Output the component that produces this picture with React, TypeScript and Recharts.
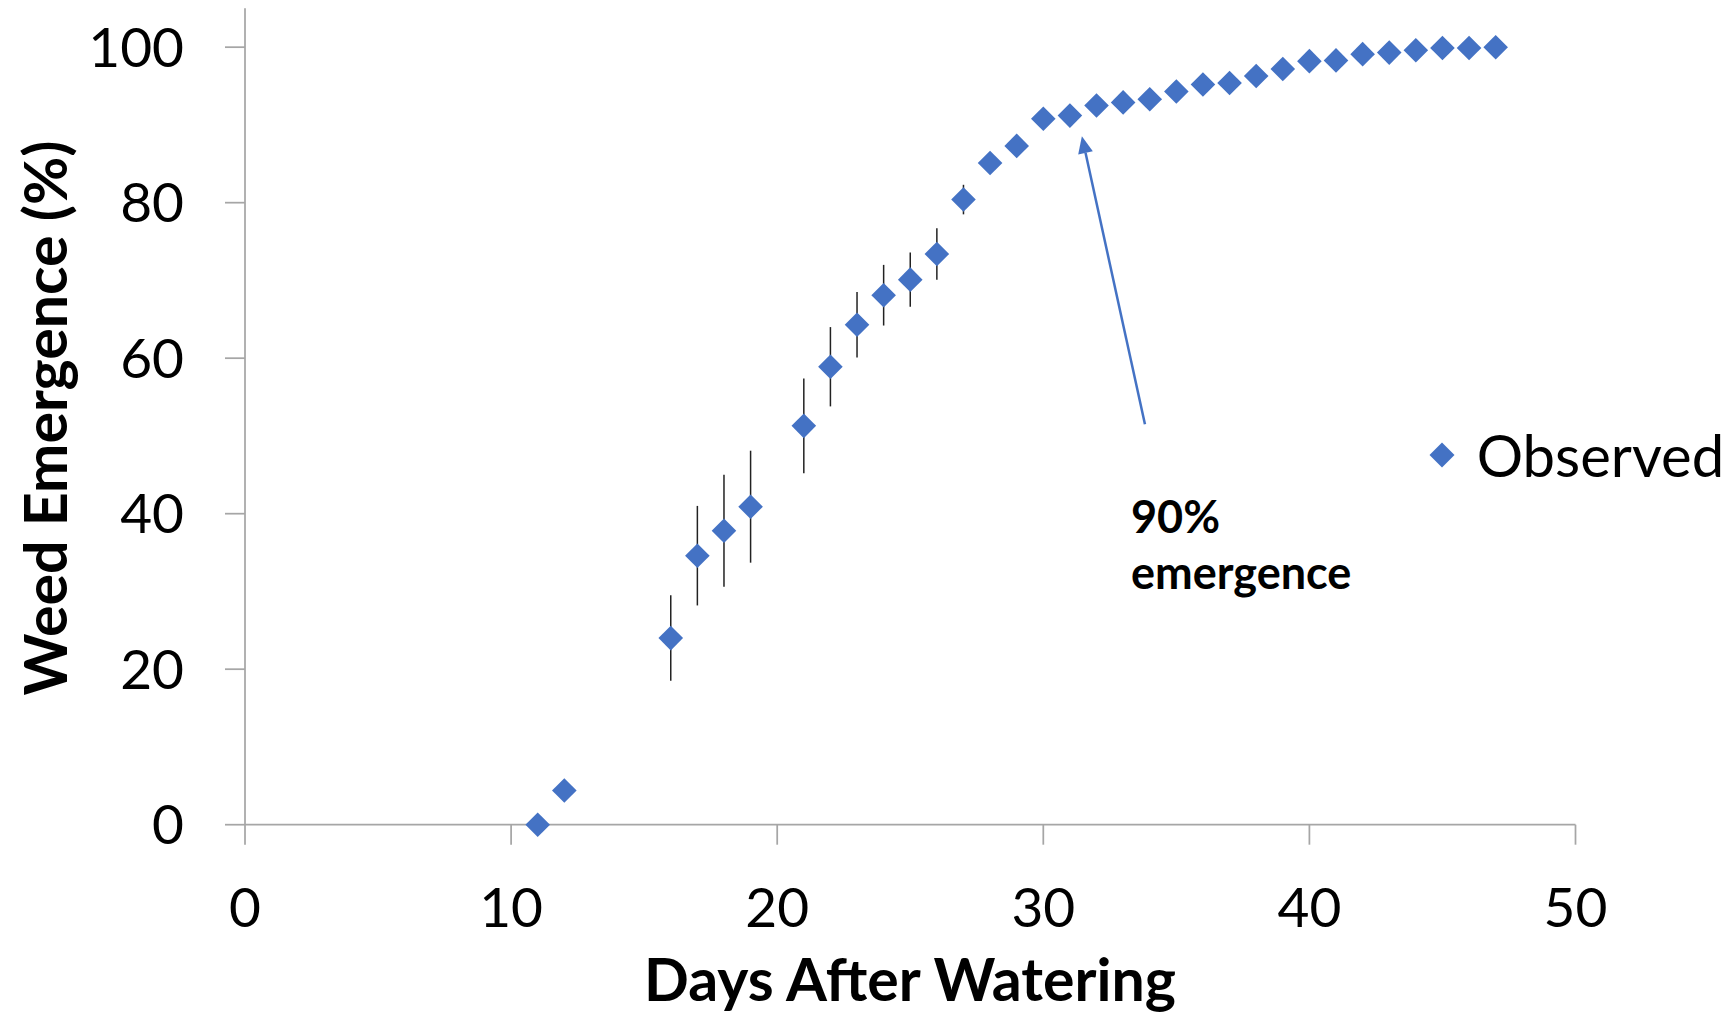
import React from 'react';
import { ScatterChart, Scatter, XAxis, YAxis, ErrorBar, Legend, ReferenceLine } from 'recharts';

const FONT = 'Lato, "Open Sans", sans-serif';
const BLUE = '#4472C4';
const AXIS_GREY = '#A6A6A6';

// Days after watering
const days = [11, 12, 16, 17, 18, 19, 21, 22, 23, 24, 25, 26, 27, 28, 29, 30, 31, 32, 33, 34, 35, 36, 37, 38, 39, 40, 41, 42, 43, 44, 45, 46, 47];
// Observed weed emergence (%)
const emergence = [0, 4.4, 24.0, 34.6, 37.8, 40.9, 51.3, 58.9, 64.3, 68.1, 70.1, 73.4, 80.4, 85.1, 87.3, 90.8, 91.2, 92.5, 92.9, 93.3, 94.3, 95.2, 95.4, 96.3, 97.2, 98.2, 98.3, 99.1, 99.3, 99.6, 99.9, 99.9, 100];
// Error bar half-lengths (%)
const errors = [0, 0, 5.5, 6.4, 7.2, 7.2, 6.1, 5.1, 4.2, 3.9, 3.5, 3.3, 1.9, 0, 0, 0, 0, 0, 0, 0, 0, 0, 0, 0, 0, 0, 0, 0, 0, 0, 0, 0, 0];

const xTicks = [0, 10, 20, 30, 40, 50];
const yTicks = [0, 20, 40, 60, 80, 100];

// Annotation arrow (data coordinates): tail -> tip
const arrowTail = { x: 33.82, y: 51.5 };
const arrowTip = { x: 31.45, y: 88.55 };

const data = days.map((d, i) => ({ day: d, value: emergence[i], err: errors[i] }));

const Diamond = (props: any) => {
  const { cx, cy } = props;
  if (cx == null || cy == null) return null;
  const r = 12.3;
  return (
    <polygon
      points={`${cx},${cy - r} ${cx + r},${cy} ${cx},${cy + r} ${cx - r},${cy}`}
      fill={BLUE}
    />
  );
};

const Arrow = (props: any) => {
  const { x1, y1, x2, y2 } = props;
  const dx = x2 - x1;
  const dy = y2 - y1;
  const len = Math.sqrt(dx * dx + dy * dy);
  const ux = dx / len;
  const uy = dy / len;
  const headLen = 17;
  const headHalf = 7.5;
  const bx = x2 - ux * headLen;
  const by = y2 - uy * headLen;
  const px = -uy;
  const py = ux;
  return (
    <g>
      <line x1={x1} y1={y1} x2={bx} y2={by} stroke={BLUE} strokeWidth={2.5} />
      <polygon
        points={`${x2},${y2} ${bx + px * headHalf},${by + py * headHalf} ${bx - px * headHalf},${by - py * headHalf}`}
        fill={BLUE}
      />
    </g>
  );
};

const LegendContent = (props: any) => {
  const { payload } = props;
  return (
    <div>
      {(payload || []).map((entry: any) => (
        <div key={entry.value} style={{ display: 'flex', alignItems: 'center', height: 58 }}>
          <svg width={26} height={26} style={{ display: 'block' }}>
            <polygon points="13,0.5 25.5,13 13,25.5 0.5,13" fill={BLUE} />
          </svg>
          <span style={{ fontFamily: FONT, fontSize: 58, color: '#000', marginLeft: 22, lineHeight: '58px' }}>
            {entry.value}
          </span>
        </div>
      ))}
    </div>
  );
};

export default function App() {
  return (
    <div style={{ position: 'absolute', left: 0, top: 0, width: 1735, height: 1017, background: '#fff' }}>
      <ScatterChart
        width={1735}
        height={1017}
        margin={{ top: 8.3, right: 159.5, bottom: 0, left: 0 }}
      >
        <XAxis
          type="number"
          dataKey="day"
          domain={[0, 50]}
          ticks={xTicks}
          interval={0}
          tickSize={20}
          tickMargin={43}
          height={192.3}
          axisLine={{ stroke: AXIS_GREY, strokeWidth: 1.75 }}
          tickLine={{ stroke: AXIS_GREY, strokeWidth: 1.75 }}
          tick={{ fill: '#000', fontSize: 55, fontFamily: FONT }}
        />
        <YAxis
          type="number"
          dataKey="value"
          domain={[0, 105]}
          ticks={yTicks}
          interval={0}
          tickSize={20}
          tickMargin={41}
          width={245}
          axisLine={{ stroke: AXIS_GREY, strokeWidth: 1.75 }}
          tickLine={{ stroke: AXIS_GREY, strokeWidth: 1.75 }}
          tick={{ fill: '#000', fontSize: 55, fontFamily: FONT }}
        />
        <Scatter name="Observed" data={data} fill={BLUE} shape={Diamond} isAnimationActive={false}>
          <ErrorBar dataKey="err" direction="y" width={0} stroke="#222" strokeWidth={1.5} isAnimationActive={false} />
        </Scatter>
        <ReferenceLine
          segment={[arrowTail, arrowTip]}
          stroke={BLUE}
          shape={Arrow}
          ifOverflow="visible"
        />
        <Legend
          layout="horizontal"
          verticalAlign="middle"
          align="center"
          content={LegendContent}
          wrapperStyle={{ position: 'absolute', left: 1428.7, top: 426, width: 320, height: 58 }}
        />
      </ScatterChart>
      <svg
        width={1735}
        height={1017}
        style={{ position: 'absolute', left: 0, top: 0, pointerEvents: 'none' }}
      >
        <text
          x={44}
          y={418}
          transform="rotate(-90 44 418)"
          textAnchor="middle"
          dominantBaseline="central"
          fontFamily={FONT}
          fontWeight={700}
          fontSize={59}
          fill="#000"
        >
          Weed Emergence (%)
        </text>
        <text
          x={910}
          y={1001}
          textAnchor="middle"
          fontFamily={FONT}
          fontWeight={700}
          fontSize={59}
          fill="#000"
        >
          Days After Watering
        </text>
        <text x={1131} y={533} fontFamily={FONT} fontWeight={700} fontSize={45} fill="#000">
          90%
        </text>
        <text x={1131} y={589} fontFamily={FONT} fontWeight={700} fontSize={45} fill="#000">
          emergence
        </text>
      </svg>
    </div>
  );
}
